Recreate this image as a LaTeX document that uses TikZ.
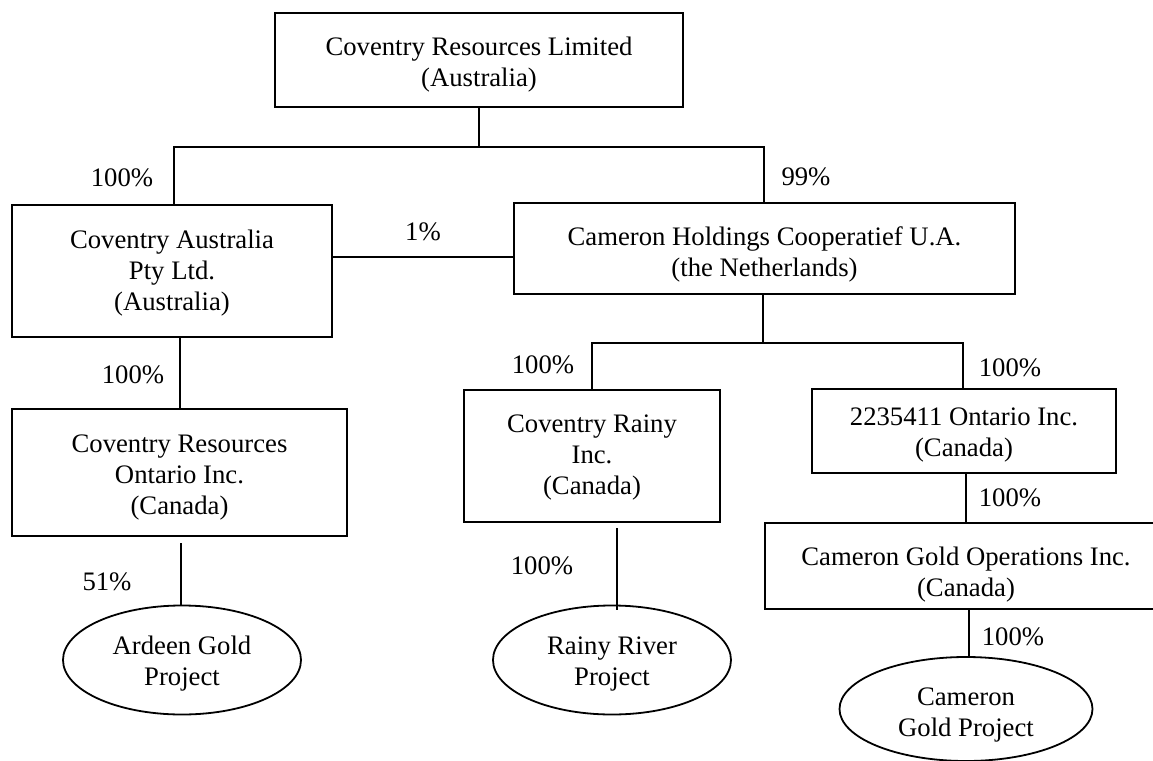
\documentclass[tikz,border=0pt]{standalone}
\usepackage{fontspec}
\setmainfont{Liberation Serif}
\usetikzlibrary{shapes.geometric}
\begin{document}
\begin{tikzpicture}[x=0.5pt,y=-0.5pt,
  txt/.style={font=\fontsize{13.35}{15.5}\selectfont, align=center, inner sep=0pt},
  box/.style={draw, line width=1pt, rectangle, inner sep=0pt},
  oval/.style={draw, line width=0.9pt, ellipse, inner sep=0pt},
  conn/.style={line width=0.8pt},
  pct/.style={font=\fontsize{13.35}{15.5}\selectfont, inner sep=0pt}]
\useasboundingbox (0,0) rectangle (1153,761);
\clip (0,0) rectangle (1153,761);
% boxes
\node[box, minimum width=204pt, minimum height=47pt,
  label={[txt,yshift=-2.25pt]center:{Coventry Resources Limited\\(Australia)}}] (top) at (479,60) {};
\node[box, minimum width=160pt, minimum height=66pt,
  label={[txt,yshift=-1pt]center:{Coventry Australia\\Pty Ltd.\\(Australia)}}] (caus) at (172,271) {};
\node[box, minimum width=250.5pt, minimum height=45.5pt,
  label={[txt,yshift=-3pt]center:{Cameron Holdings Cooperatief U.A.\\(the Netherlands)}}] (chold) at (764.5,248.5) {};
\node[box, minimum width=167.5pt, minimum height=63.5pt,
  label={[txt,yshift=-2.5pt]center:{Coventry Resources\\Ontario Inc.\\(Canada)}}] (cro) at (179.5,472.5) {};
\node[box, minimum width=128pt, minimum height=66pt,
  label={[txt,yshift=-0.75pt]center:{Coventry Rainy\\Inc.\\(Canada)}}] (crainy) at (592,456) {};
\node[box, minimum width=152pt, minimum height=42pt,
  label={[txt,yshift=-2pt]center:{2235411 Ontario Inc.\\(Canada)}}] (ont) at (964,431) {};
\node[box, minimum width=201pt, minimum height=43pt,
  label={[txt,yshift=-4.5pt]center:{Cameron Gold Operations Inc.\\(Canada)}}] (cgo) at (966,566) {};
% ellipses
\node[oval, minimum width=119pt, minimum height=54.5pt,
  label={[txt,yshift=-1.75pt]center:{Ardeen Gold\\Project}}] (ardeen) at (182,660) {};
\node[oval, minimum width=119pt, minimum height=54.5pt,
  label={[txt,yshift=-1.75pt]center:{Rainy River\\Project}}] (rainy) at (612,660) {};
\node[oval, minimum width=126.5pt, minimum height=52pt,
  label={[txt,yshift=-2.75pt]center:{Cameron\\Gold Project}}] (cgp) at (966,709) {};
% junction coordinates
\coordinate (j1) at (479,147);
\coordinate (j2) at (763,343);
% connectors
\draw[conn] (top.south) -- (j1);
\draw[conn] (caus.north -| 174,0) |- (j1);
\draw[conn] (chold.north -| 764,0) |- (j1);
\draw[conn] (caus.east |- 0,257) -- (chold.west |- 0,257);
\draw[conn] (caus.south -| 180,0) -- (cro.north -| 180,0);
\draw[conn] ([yshift=-3pt]cro.south -| 181,0) -- (ardeen.north -| 181,0);
\draw[conn] (chold.south -| 763,0) -- (j2);
\draw[conn] (crainy.north -| 592,0) |- (j2);
\draw[conn] (ont.north -| 963,0) |- (j2);
\draw[conn] (ont.south -| 966,0) -- (cgo.north -| 966,0);
\draw[conn] ([yshift=-2.5pt]crainy.south -| 617,0) -- (617,610);
\draw[conn] (cgo.south -| 969,0) -- (cgp.north -| 969,0);
% percentages
\node[pct] (p1) at (122,178) {100\%};
\node[pct] (p2) at (806,177) {99\%};
\node[pct] (p3) at (423,232) {1\%};
\node[pct] (p4) at (133,375) {100\%};
\node[pct] (p5) at (107,582) {51\%};
\node[pct] (p6) at (543,365) {100\%};
\node[pct] (p7) at (1010,368) {100\%};
\node[pct] (p8) at (1010,498) {100\%};
\node[pct] (p9) at (542,566) {100\%};
\node[pct] (p10) at (1013,637) {100\%};
\end{tikzpicture}
\end{document}
